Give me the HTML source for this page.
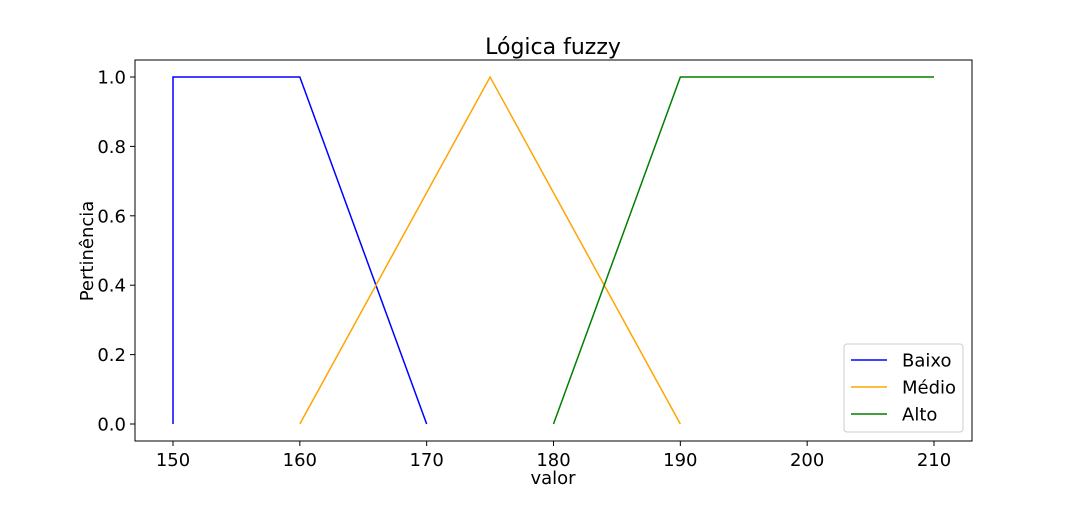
<!DOCTYPE html>
<html><head><meta charset="utf-8"><style>
body{margin:0;background:#fff}
svg{font-family:"DejaVu Sans","Liberation Sans",sans-serif}
</style></head><body>
<svg id="c" width="1080" height="504">
<rect x="135" y="60" width="837" height="381" fill="#fff" stroke="#000" stroke-width="1"/>
<text x="553" y="54" text-anchor="middle" font-size="22">Lógica fuzzy</text>
<text x="553" y="484" text-anchor="middle" font-size="18">valor</text>
<text transform="translate(93,251) rotate(-90)" text-anchor="middle" font-size="18">Pertinência</text>
<g id="ticks"></g><g id="lines"></g>
<g>
<rect x="844" y="344" width="119" height="88" rx="3" fill="#fff" stroke="#ccc"/>
<g id="leg"></g>
</g>
</svg>
<script>
const xTicks=[150,160,170,180,190,200,210];
const yTicks=[0.0,0.2,0.4,0.6,0.8,1.0];
const seriesNames=["Baixo","Médio","Alto"];
const seriesColors=["blue","orange","green"];
const baixoX=[150,150,160,170], baixoY=[0,1,1,0];
const medioX=[160,175,190], medioY=[0,1,0];
const altoX=[180,190,210], altoY=[0,1,1];
const seriesX=[baixoX,medioX,altoX], seriesY=[baixoY,medioY,altoY];
const X=v=>173+(v-150)*(934-173)/60;
const Y=v=>424-v*(424-77);
const ns="http://www.w3.org/2000/svg";
function mk(t,a,p){const e=document.createElementNS(ns,t);for(const k in a)e.setAttribute(k,a[k]);p.appendChild(e);return e;}
const tg=document.getElementById('ticks');
xTicks.forEach(v=>{
 const l=mk('line',{x1:X(v),x2:X(v),y1:441,y2:446,stroke:'#000'},tg);
 
 
 const t=mk('text',{x:X(v),y:466,'text-anchor':'middle','font-size':18},tg);t.textContent=v;
 
 
});
yTicks.forEach(v=>{
 const l=mk('line',{x1:130,x2:135,y1:Y(v),y2:Y(v),stroke:'#000'},tg);
 
 
 const t=mk('text',{x:126,y:Y(v)+6.5,'text-anchor':'end','font-size':18},tg);t.textContent=v.toFixed(1);
 
 
});
const lg=document.getElementById('lines'),leg=document.getElementById('leg');
seriesNames.forEach((n,i)=>{
 const pts=seriesX[i].map((x,j)=>X(x)+','+Y(seriesY[i][j])).join(' ');
 const p=mk('polyline',{points:pts,fill:'none',stroke:seriesColors[i],'stroke-width':1.5},lg);
 
 
 const yy=360+i*27;
 const ll=mk('line',{x1:851,x2:887,y1:yy,y2:yy,stroke:seriesColors[i],'stroke-width':1.5},leg);
 
 
 const t=mk('text',{x:902,y:yy+6.5,'font-size':18},leg);t.textContent=n;
 
 
});
</script>
</body></html>
